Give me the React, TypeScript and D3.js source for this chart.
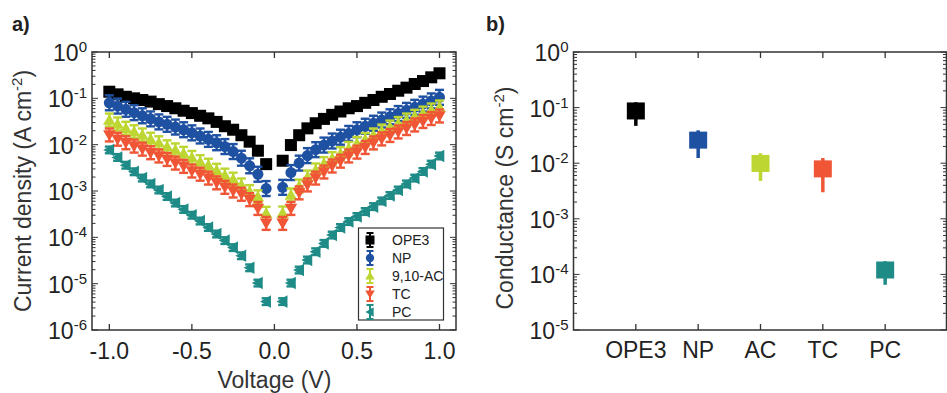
import React from 'react';
import * as d3 from 'd3';

// ---------- Panel a) data ----------
const voltages = [
  -1.0, -0.95, -0.9, -0.85, -0.8, -0.75, -0.7, -0.65, -0.6, -0.55,
  -0.5, -0.45, -0.4, -0.35, -0.3, -0.25, -0.2, -0.15, -0.1, -0.05,
  0.05, 0.1, 0.15, 0.2, 0.25, 0.3, 0.35, 0.4, 0.45, 0.5,
  0.55, 0.6, 0.65, 0.7, 0.75, 0.8, 0.85, 0.9, 0.95, 1.0,
];
const ope3 = [
  0.139, 0.122, 0.108, 0.1, 0.092, 0.085, 0.075, 0.068, 0.061, 0.054,
  0.048, 0.042, 0.037, 0.031, 0.025, 0.021, 0.016, 0.0116, 0.0074, 0.0038,
  0.0045, 0.0098, 0.016, 0.0225, 0.029, 0.036, 0.044, 0.052, 0.061, 0.068,
  0.08, 0.092, 0.108, 0.124, 0.146, 0.17, 0.204, 0.236, 0.284, 0.347,
];
const np = [
  0.08, 0.068, 0.058, 0.049, 0.042, 0.036, 0.031, 0.0275, 0.024, 0.021,
  0.018, 0.0154, 0.013, 0.011, 0.0091, 0.0071, 0.0051, 0.0035, 0.0023, 0.00113,
  0.0012, 0.0025, 0.004, 0.0058, 0.0078, 0.0098, 0.012, 0.0145, 0.0175, 0.021,
  0.025, 0.029, 0.034, 0.04, 0.047, 0.055, 0.064, 0.075, 0.088, 0.105,
];
const ac910 = [
  0.034, 0.028, 0.0226, 0.019, 0.0162, 0.0131, 0.011, 0.009, 0.0077, 0.0065,
  0.0053, 0.0043, 0.0036, 0.0028, 0.0022, 0.0018, 0.00135, 0.00097, 0.00075, 0.00033,
  0.000335, 0.00082, 0.00128, 0.002, 0.00284, 0.0039, 0.005, 0.0064, 0.0083, 0.0106,
  0.0129, 0.0162, 0.0197, 0.024, 0.0286, 0.034, 0.041, 0.048, 0.056, 0.065,
];
const tc = [
  0.0162, 0.0131, 0.011, 0.0093, 0.008, 0.0067, 0.0057, 0.0048, 0.004, 0.0034,
  0.0027, 0.0023, 0.0019, 0.0015, 0.0012, 0.001, 0.00085, 0.00065, 0.00042, 0.0002,
  0.0002, 0.00042, 0.00091, 0.00135, 0.0019, 0.00257, 0.00346, 0.0044, 0.0057, 0.0069,
  0.0087, 0.0109, 0.0133, 0.0158, 0.0188, 0.0223, 0.0266, 0.0316, 0.0367, 0.0416,
];
const pc = [
  0.0077, 0.0053, 0.0036, 0.0026, 0.0019, 0.00142, 0.00105, 0.00076, 0.00055, 0.0004,
  0.0003, 0.000225, 0.000163, 0.000118, 0.000085, 0.00006, 0.00004, 0.000022, 0.0000103, 0.0000041,
  0.0000041, 0.0000103, 0.0000197, 0.0000324, 0.000049, 0.000074, 0.000112, 0.000163, 0.000219, 0.000281,
  0.00036, 0.00046, 0.00061, 0.0008, 0.00105, 0.00142, 0.0019, 0.00264, 0.0038, 0.0057,
];
const seriesNames = ['OPE3', 'NP', '9,10-AC', 'TC', 'PC'];
const seriesValues = [ope3, np, ac910, tc, pc];
const seriesColors = ['#000000', '#1f51a3', '#bdd632', '#f05636', '#1e8b87'];
const seriesShapes = ['square', 'circle', 'triUp', 'triDown', 'triLeft'];
const errFactors = [1.22, 1.45, 1.38, 1.38, 1.18];
const voltTicks = [-1.0, -0.5, 0.0, 0.5, 1.0];
const currentExps = [0, -1, -2, -3, -4, -5, -6];

// ---------- Panel b) data ----------
const categories = ['OPE3', 'NP', 'AC', 'TC', 'PC'];
const conductance = [0.087, 0.026, 0.0099, 0.0079, 0.00012];
const condLow = [0.047, 0.0124, 0.0048, 0.003, 0.000065];
const condHigh = [0.125, 0.039, 0.0151, 0.0124, 0.000173];
const condColors = ['#000000', '#1f51a3', '#bdd632', '#f05636', '#1e8b87'];
const condExps = [0, -1, -2, -3, -4, -5];

const FONT = '"Liberation Sans", Arial, Helvetica, sans-serif';
const AXIS = '#333333';
const LBL = 23;

function markerPath(shape: string, s: number): string {
  switch (shape) {
    case 'triUp':
      return `M0,${-s}L${s * 1.05},${s * 0.8}L${-s * 1.05},${s * 0.8}Z`;
    case 'triDown':
      return `M0,${s}L${s * 1.05},${-s * 0.8}L${-s * 1.05},${-s * 0.8}Z`;
    case 'triLeft':
      return `M${-s},0L${s * 0.8},${-s * 1.05}L${s * 0.8},${s * 1.05}Z`;
    default:
      return '';
  }
}

function Marker({ shape, color, x, y, s }: { shape: string; color: string; x: number; y: number; s: number }) {
  if (shape === 'square') {
    return <rect x={x - s} y={y - s} width={2 * s} height={2 * s} fill={color} />;
  }
  if (shape === 'circle') {
    return <circle cx={x} cy={y} r={s * 0.92} fill={color} />;
  }
  return <path transform={`translate(${x},${y})`} d={markerPath(shape, s)} fill={color} />;
}

function ErrBar({ x, y1, y2, color, cap, w }: { x: number; y1: number; y2: number; color: string; cap: number; w: number }) {
  return (
    <g stroke={color} strokeWidth={w} fill="none">
      <line x1={x} x2={x} y1={y1} y2={y2} />
      <line x1={x - cap} x2={x + cap} y1={y1} y2={y1} />
      <line x1={x - cap} x2={x + cap} y1={y2} y2={y2} />
    </g>
  );
}

function PowLabel({ x, y, exp, anchor }: { x: number; y: number; exp: number; anchor: string }) {
  return (
    <text x={x} y={y} textAnchor={anchor} fontFamily={FONT} fontSize={LBL} fill="#222">
      10
      <tspan fontSize={15} dy={-9}>{String(exp)}</tspan>
    </text>
  );
}

function LogFrame({
  x0, x1, y, exps, xTickPos, minorRight,
}: {
  x0: number; x1: number; y: d3.ScaleLogarithmic<number, number>; exps: number[]; xTickPos: number[]; minorRight: boolean;
}) {
  const [dMin, dMax] = y.domain();
  const allTicks = y.ticks().filter((t) => t >= dMin * 0.999 && t <= dMax * 1.001);
  const yTop = y(dMax);
  const yBot = y(dMin);
  return (
    <g>
      {allTicks.map((t, i) => {
        const major = Math.abs(Math.log10(t) - Math.round(Math.log10(t))) < 1e-6;
        const len = major ? 6 : 3.5;
        return (
          <g key={i} stroke={AXIS} strokeWidth={1}>
            <line x1={x0} x2={x0 + len} y1={y(t)} y2={y(t)} />
            {minorRight && <line x1={x1} x2={x1 - len} y1={y(t)} y2={y(t)} />}
          </g>
        );
      })}
      {xTickPos.map((px, i) => (
        <g key={'xt' + i} stroke={AXIS} strokeWidth={1.3}>
          <line x1={px} x2={px} y1={yTop} y2={yTop + 6} />
          <line x1={px} x2={px} y1={yBot} y2={yBot - 6} />
        </g>
      ))}
      <rect x={x0} y={yTop} width={x1 - x0} height={yBot - yTop} fill="none" stroke={AXIS} strokeWidth={1.5} />
      {exps.map((e) => (
        <PowLabel key={e} x={x0 - 5} y={y(Math.pow(10, e)) + 9} exp={e} anchor="end" />
      ))}
    </g>
  );
}

export default function App() {
  const W = 947;
  const H = 393;

  // Panel a scales
  const xA = d3.scaleLinear().domain([-1.105, 1.1]).range([92, 456]);
  const yA = d3.scaleLog().domain([1e-6, 1]).range([330, 52]);

  // Panel b scales
  const xB = d3.scaleLinear().domain([0, 6]).range([573.5, 947.5]);
  const yB = d3.scaleLog().domain([1e-5, 1]).range([330, 52]);

  const legendY = d3.scaleLinear().domain([0, 4]).range([240, 312]);

  return (
    <svg width={W} height={H} style={{ position: 'absolute', left: 0, top: 0, background: '#fff' }}>
      <rect x={0} y={0} width={W} height={H} fill="#fff" />
      {/* Panel labels */}
      <text x={12} y={31} fontFamily={FONT} fontWeight="bold" fontSize={20} fill="#222">a)</text>
      <text x={486} y={31} fontFamily={FONT} fontWeight="bold" fontSize={20} fill="#222">b)</text>

      {/* ---------- Panel a ---------- */}
      <g>
        {seriesValues.map((vals, si) => (
          <g key={'eb' + si}>
            {vals.map((v, i) => (
              <ErrBar
                key={i}
                x={xA(voltages[i])}
                y1={yA(v * errFactors[si])}
                y2={yA(v / errFactors[si])}
                color={seriesColors[si]}
                cap={4.5}
                w={2.4}
              />
            ))}
            {vals.map((v, i) => (
              <Marker
                key={'m' + i}
                shape={seriesShapes[si]}
                color={seriesColors[si]}
                x={xA(voltages[i])}
                y={yA(v)}
                s={6}
              />
            ))}
          </g>
        ))}
        <LogFrame x0={92} x1={456} y={yA} exps={currentExps} xTickPos={voltTicks.map((v) => xA(v))} minorRight={true} />
        {voltTicks.map((v) => (
          <text key={v} x={xA(v)} y={359} textAnchor="middle" fontFamily={FONT} fontSize={LBL} fill="#222">
            {v.toFixed(1)}
          </text>
        ))}
        <text x={xA(0)} y={388} textAnchor="middle" fontFamily={FONT} fontSize={LBL} fill="#333">Voltage (V)</text>
        <text transform={`translate(31,${yA(1e-3)}) rotate(-90)`} textAnchor="middle" fontFamily={FONT} fontSize={LBL} fill="#333">
          Current density (A cm<tspan fontSize={15} dy={-9}>-2</tspan><tspan dy={9}>)</tspan>
        </text>

        {/* Legend */}
        <rect x={358.5} y={228} width={85} height={92} fill="#fff" stroke={AXIS} strokeWidth={1.2} />
        {seriesNames.map((n, si) => (
          <g key={n}>
            <ErrBar x={370} y1={legendY(si) - 7} y2={legendY(si) + 7} color={seriesColors[si]} cap={3.5} w={2} />
            <Marker shape={seriesShapes[si]} color={seriesColors[si]} x={370} y={legendY(si)} s={4.5} />
            <text x={392} y={legendY(si) + 5} fontFamily={FONT} fontSize={14} fill="#222">{n}</text>
          </g>
        ))}
      </g>

      {/* ---------- Panel b ---------- */}
      <g>
        {conductance.map((c, i) => (
          <g key={categories[i]}>
            <line x1={xB(i + 1)} x2={xB(i + 1)} y1={yB(condHigh[i])} y2={yB(condLow[i])} stroke={condColors[i]} strokeWidth={3.5} />
            <rect x={xB(i + 1) - 9} y={yB(c) - 8.5} width={18} height={17} fill={condColors[i]} />
          </g>
        ))}
        <LogFrame x0={573.5} x1={946.5} y={yB} exps={condExps} xTickPos={categories.map((_, i) => xB(i + 1))} minorRight={true} />
        {categories.map((c, i) => (
          <text key={c} x={xB(i + 1)} y={358} textAnchor="middle" fontFamily={FONT} fontSize={LBL} fill="#222">{c}</text>
        ))}
        <text transform={`translate(513,198) rotate(-90)`} textAnchor="middle" fontFamily={FONT} fontSize={LBL} fill="#333">
          Conductance (S cm<tspan fontSize={15} dy={-9}>-2</tspan><tspan dy={9}>)</tspan>
        </text>
      </g>
    </svg>
  );
}
